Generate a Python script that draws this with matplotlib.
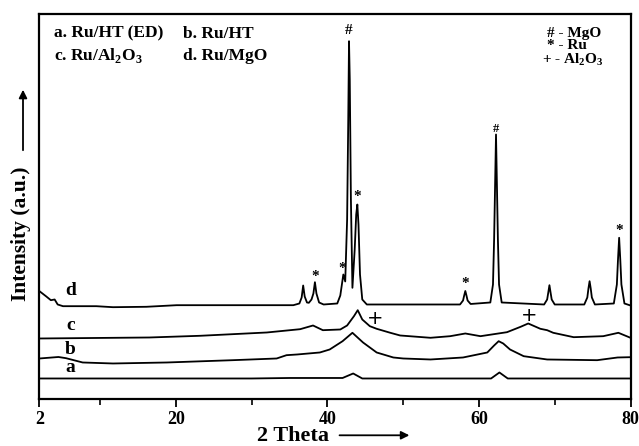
import matplotlib
matplotlib.use("Agg")
import matplotlib.pyplot as plt
from matplotlib.patches import FancyArrowPatch

plt.rcParams['font.family'] = ['Liberation Serif', 'DejaVu Serif']
plt.rcParams['font.weight'] = 'bold'
plt.rcParams['mathtext.fontset'] = 'custom'
plt.rcParams['mathtext.rm'] = 'Liberation Serif:bold'
plt.rcParams['mathtext.bf'] = 'Liberation Serif:bold'

# ---- data (2 theta, intensity a.u.) ----
a_x = [2, 30, 35, 42.0, 43.4, 44.6, 61.6, 62.7, 63.8, 80]
a_y = [21, 21, 21.5, 21.5, 26, 21, 21, 27, 21, 21]

b_x = [2, 4.5, 5.5, 7.7, 11.7, 18.8, 27.5, 33.3, 34.6, 36, 39, 40.3, 42, 43.3,
       44.7, 46.5, 48.7, 50, 53.6, 57.9, 61.1, 62.0, 62.6, 63.2, 64.1, 65.9,
       69, 75.6, 78.3, 80]
b_y = [41, 42.5, 41.3, 37, 36, 37, 39.3, 41, 44.3, 45, 47, 50, 58.3, 66.7,
       57, 47, 42, 41, 40, 42, 47, 54, 58.3, 56, 50, 43.3,
       40, 39.3, 42, 42.3]

c_x = [2, 16.5, 23.2, 32, 36.4, 38.1, 39.4, 41.7, 42.6, 43.5, 44.0, 44.6, 45.6,
       46.5, 48.3, 49.6, 53.6, 56.2, 58.2, 60.2, 63.7, 65.5, 66.5, 68.1, 69.0,
       69.8, 72.5, 76.4, 78.4, 80]
c_y = [61, 62, 63.7, 67, 70.3, 74, 69.3, 70, 74, 83.3, 89.3, 80, 73.3,
       70.7, 66.7, 64, 61.7, 63.3, 66, 63.3, 67.3, 72.7, 76, 70.7, 69.3,
       66.7, 62.3, 63.3, 66.7, 61.7]

d_x = [2, 2.9, 3.5, 4.0, 4.4, 5.1, 9.5, 11.7, 16.1, 20.1, 35.5, 36.3, 36.6, 36.8,
       37.0, 37.3, 37.55, 37.9, 38.15, 38.35, 38.55, 38.9, 39.5, 41.3, 41.7,
       42.1, 42.35, 42.6, 42.75, 42.85, 42.95, 43.1, 43.3, 43.6, 43.8, 43.95,
       44.1, 44.3, 44.6, 45.2, 57.5, 57.9, 58.05, 58.2, 58.35, 58.5, 58.9,
       61.5, 61.85, 62.0, 62.25, 62.5, 62.65, 63.0, 68.6, 69.0, 69.15, 69.3,
       69.45, 69.6, 70.0, 73.9, 74.3, 74.45, 74.6, 74.75, 74.9, 75.3, 77.8,
       78.2, 78.35, 78.5, 78.65, 78.8, 79.2, 80]
d_y = [108.3, 103, 99.3, 100, 95, 93.3, 93.3, 92.3, 92.7, 94.3, 94.3, 96, 102, 114,
       103, 97, 96.7, 100, 106, 117.3, 106, 97, 95, 96, 104,
       125, 118, 180, 280, 358.3, 320, 200, 111.7, 150, 185, 195,
       175, 125, 100, 95, 95, 99, 104, 108.5, 104, 99, 95.5,
       97, 115, 160, 265, 160, 115, 97, 95, 100, 107, 114.3,
       107, 100, 95, 95, 102, 111, 118.3, 111, 102, 95, 96,
       115, 140, 161.7, 140, 115, 96, 94]

curve_labels = ['a', 'b', 'c', 'd']
x_major = [2, 20, 40, 60, 80]
x_minor = [10, 30, 50, 70]

fig = plt.figure(figsize=(6.39, 4.46), dpi=100)
ax = fig.add_axes([0.0618, 0.1043, 0.9249, 0.8654])

for xs, ys in [(a_x, a_y), (b_x, b_y), (c_x, c_y), (d_x, d_y)]:
    ax.plot(xs, ys, color='black', lw=1.3, solid_joinstyle='round')

ax.set_xlim(2, 80)
ax.set_ylim(0, 386)
ax.set_yticks([])
ax.set_xticks(x_major)
ax.set_xticklabels([str(v) for v in x_major])
ax.set_xticks(x_minor, minor=True)
ax.tick_params(axis='x', which='major', direction='out', length=6, width=1.3,
               labelsize=13, pad=2)
ax.tick_params(axis='x', which='minor', direction='out', length=4, width=1.2)
for s in ax.spines.values():
    s.set_linewidth(1.6)

# curve labels
lab_pos = {'a': 32, 'b': 50, 'c': 74, 'd': 109}
for lab in curve_labels:
    ax.text(6.1, lab_pos[lab], lab, fontsize=14, fontweight='bold',
            ha='center', va='center')

# legend texts
ax.text(3.85, 366, 'a. Ru/HT (ED)', fontsize=12.5, fontweight='bold', va='center')
ax.text(20.9, 366, 'b. Ru/HT', fontsize=12.5, fontweight='bold', va='center')
ax.text(3.85, 344, r'c. Ru/Al$_2$O$_3$', fontsize=12.5, fontweight='bold', va='center')
ax.text(20.9, 344, 'd. Ru/MgO', fontsize=12.5, fontweight='bold', va='center')

ax.text(69.0, 366, '# - MgO', fontsize=11, fontweight='bold', va='center')
ax.text(69.0, 354, '* - Ru', fontsize=11, fontweight='bold', va='center')
ax.text(68.3, 340, r'+ - Al$_2$O$_3$', fontsize=11, fontweight='bold', va='center')

# peak markers
marks = [('#', 42.85, 369, 11), ('#', 62.25, 271, 9), ('*', 43.95, 203, 11),
         ('*', 38.4, 123, 11), ('*', 42.0, 131, 11), ('*', 58.2, 116, 11),
         ('*', 78.5, 169, 11), ('+', 46.3, 81, 14), ('+', 66.6, 84, 14)]
for m, x, y, fs in marks:
    ax.text(x, y, m, fontsize=fs, fontweight='bold' if m != '+' else 'normal',
            ha='center', va='center', family='DejaVu Sans' if m == '+' else None)

# axis labels with arrows
fig.text(0.033, 0.475, 'Intensity (a.u.)', rotation=90, fontsize=15.5,
         fontweight='bold', ha='center', va='center')
fig.text(0.458, 0.022, '2 Theta', fontsize=16, fontweight='bold',
         ha='center', va='center')
fig.add_artist(FancyArrowPatch((0.527, 0.024), (0.645, 0.024),
                               transform=fig.transFigure, arrowstyle='-|>',
                               mutation_scale=12, lw=1.3, color='black'))
fig.add_artist(FancyArrowPatch((0.036, 0.657), (0.036, 0.805),
                               transform=fig.transFigure, arrowstyle='-|>',
                               mutation_scale=12, lw=1.3, color='black'))

fig.savefig('out.png', dpi=100)
